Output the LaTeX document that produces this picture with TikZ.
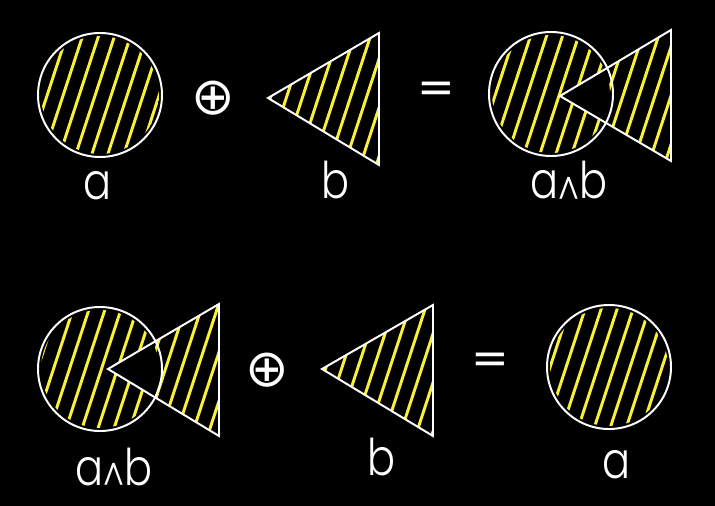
\documentclass[tikz,border=0pt]{standalone}
\usepackage{fontspec}
\newfontfamily\handfont{Poppins}[UprightFont=* Light, FakeStretch=0.82]
\newfontfamily\symbfont{DejaVu Sans}
\usetikzlibrary{positioning}
\definecolor{cyellow}{HTML}{F8F03A}
\definecolor{cback}{HTML}{000000}
\tikzset{
  every picture/.style={line width=2.4pt},
  outline/.style={draw=white, line width=2.8pt, line join=miter},
  hatch/.style={draw=cyellow, line width=4.2pt, line cap=round},
  label/.style={text=white, anchor=base, inner sep=0pt, font=\handfont\fontsize{72}{72}\selectfont},
  op/.style={text=white, inner sep=0pt, font=\symbfont\fontsize{74}{74}\selectfont},
  eq/.style={text=white, inner sep=0pt, font=\symbfont\fontsize{64}{64}\selectfont},
}
% slanted yellow strokes, to be clipped by a shape
\newcommand{\hatchfill}{%
  \foreach \x in {-220,-204,...,720} \draw[hatch] (\x,520) -- ++(172,-525);}
\newcommand{\wedgechar}{{\fontsize{60}{60}\selectfont\raisebox{-10pt}[0pt][0pt]{\textasciicircum}}}

\begin{document}
\begin{tikzpicture}[x=0.05cm, y=-0.05cm]
  \fill[cback] (0,0) rectangle (715,506);
  \useasboundingbox (0,0) rectangle (715,506);
  % top row: a (+) b = a^b
  \begin{scope}
    \clip (100,95) circle[radius=59];
    \hatchfill
  \end{scope}
  \draw[outline] (100,95) circle[radius=62];
  \node[label] (la1) at (98,200) {a};
  \node[op] (xor1) at (213,98) {⊕};
  \begin{scope}
    \clip (268,98) -- (379,33) -- (379,165) -- cycle;
    \hatchfill
  \end{scope}
  \draw[outline] (268,98) -- (379,33) -- (379,165) -- cycle;
  \node[label] (lb1) at (336,199) {b};
  \node[eq] (eq1) at (436,92) {=};
  \begin{scope}[even odd rule]
    \clip (551,94) circle[radius=59] (560,96) -- (671,30) -- (671,161) -- cycle;
    \hatchfill
  \end{scope}
  \draw[outline] (551,94) circle[radius=62];
  \draw[outline] (560,96) -- (671,30) -- (671,161) -- cycle;
  \node[label] (lab1) at (569,199) {a\wedgechar b};
  % bottom row: a^b (+) b = a
  \begin{scope}[even odd rule]
    \clip (100,369) circle[radius=59] (108,369) -- (219,304) -- (219,436) -- cycle;
    \hatchfill
  \end{scope}
  \draw[outline] (100,369) circle[radius=62];
  \draw[outline] (108,369) -- (219,304) -- (219,436) -- cycle;
  \node[label] (lab2) at (114,485) {a\wedgechar b};
  \node[op] (xor2) at (267,370) {⊕};
  \begin{scope}
    \clip (322,369) -- (433,305) -- (433,436) -- cycle;
    \hatchfill
  \end{scope}
  \draw[outline] (322,369) -- (433,305) -- (433,436) -- cycle;
  \node[label] (lb2) at (382,475) {b};
  \node[eq] (eq2) at (490,363) {=};
  \begin{scope}
    \clip (609,367) circle[radius=59];
    \hatchfill
  \end{scope}
  \draw[outline] (609,367) circle[radius=62];
  \node[label] (la2) at (616,478) {a};
\end{tikzpicture}
\end{document}
